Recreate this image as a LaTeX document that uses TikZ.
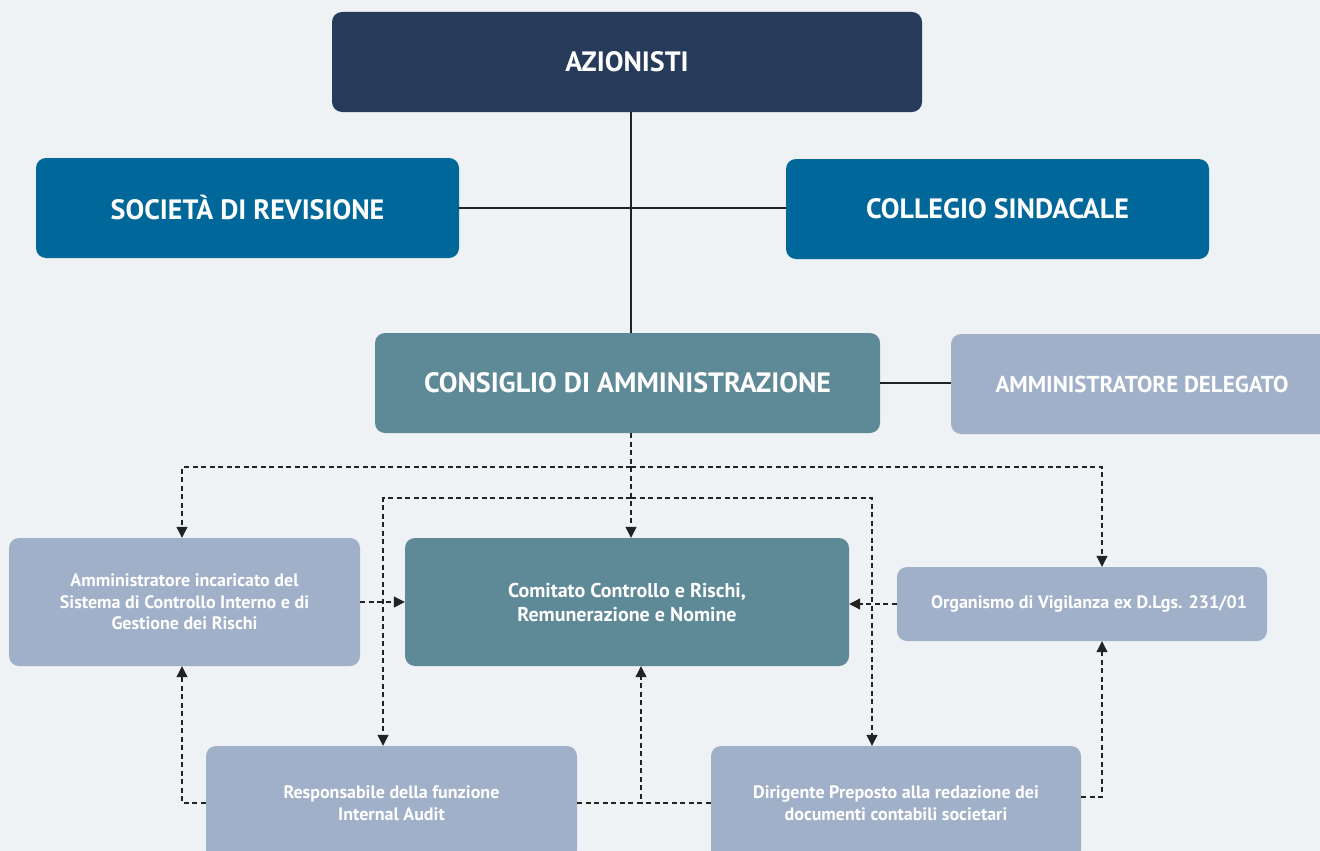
\documentclass[tikz,border=0pt]{standalone}
\usepackage{fontspec}
\setmainfont{PT Sans}
\usetikzlibrary{arrows.meta,calc}
\definecolor{bgc}{HTML}{EEF2F5}
\definecolor{navy}{HTML}{263A5A}
\definecolor{blu}{HTML}{00679A}
\definecolor{teal}{HTML}{5E8996}
\definecolor{lite}{HTML}{A0B0C9}
\definecolor{ink}{HTML}{222222}
\begin{document}
\begin{tikzpicture}[x=1pt,y=-1pt,
  box/.style={rounded corners=10pt,inner sep=0pt,text=white,font=\bfseries,align=center},
  big/.style={box,font=\fontsize{28}{31}\selectfont\bfseries},
  mid/.style={box,font=\fontsize{23}{26}\selectfont\bfseries},
  small/.style={box,font=\fontsize{18}{21.5}\selectfont\bfseries},
  smallc/.style={box,font=\fontsize{20}{24}\selectfont\bfseries},
  sline/.style={draw=ink,line width=1.2pt},
  dline/.style={draw=ink,line width=1.2pt,dash pattern=on 5pt off 3.5pt},
  darrow/.style={dline,-{Triangle[length=11pt,width=11pt]}}]
\fill[bgc] (0,0) rectangle (1320,851);
\clip (0,0) rectangle (1320,851);
\node[big,fill=navy,minimum width=590pt,minimum height=100pt] (az) at (627,62) {AZIONISTI};
\node[big,fill=blu,minimum width=423pt,minimum height=100pt] (sr) at (247.5,208) {SOCIETÀ DI REVISIONE};
\node[big,fill=blu,minimum width=423pt,minimum height=100pt] (cs) at (997.5,209) {COLLEGIO SINDACALE};
\node[big,fill=teal,minimum width=505pt,minimum height=100pt] (cda) at (627.5,383) {CONSIGLIO DI AMMINISTRAZIONE};
\node[mid,fill=lite,minimum width=382pt,minimum height=100pt] (ad) at (1142,384) {AMMINISTRATORE DELEGATO};
\node[small,fill=lite,minimum width=351pt,minimum height=128pt] (aic) at (184.5,602) {Amministratore incaricato del\\Sistema di Controllo Interno e di\\Gestione dei Rischi};
\node[smallc,fill=teal,minimum width=444pt,minimum height=128pt] (com) at (627,602) {Comitato Controllo e Rischi,\\Remunerazione e Nomine};
\node[small,fill=lite,minimum width=370pt,minimum height=74pt] (odv) at (1082,604) {\hspace*{14pt}Organismo di Vigilanza ex D.Lgs. 231/01};
\node[small,fill=lite,minimum width=371pt,minimum height=114pt] (ria) at (391.5,803) {Responsabile della funzione\\Internal Audit};
\node[small,fill=lite,minimum width=370pt,minimum height=114pt] (dp) at (896,803) {Dirigente Preposto alla redazione dei\\documenti contabili societari};
\coordinate (vx) at (631,0);
\coordinate (hy) at (0,208);
\coordinate (h1) at (631,467);
\coordinate (h2) at (631,498);
\coordinate (xa) at (182,0);
\coordinate (xb) at (383,0);
\coordinate (xc) at (872,0);
\coordinate (xd) at (1102,0);
\coordinate (xe) at (641,0);
% solid connectors
\draw[sline] (az.south -| vx) -- (cda.north -| vx);
\draw[sline] (sr.east |- hy) -- (cs.west |- hy);
\draw[sline] (cda.east) -- (cda.east -| ad.west);
% dashed connectors
\draw[darrow] (cda.south -| vx) -- (com.north -| vx);
\draw[darrow] (h1) -| (aic.north -| xa);
\draw[darrow] (h1) -| (odv.north -| xd);
\draw[darrow] (h2) -| (ria.north -| xb);
\draw[darrow] (h2) -| (dp.north -| xc);
\draw[darrow] (aic.east) -- (com.west);
\draw[darrow] (odv.west) -- (odv.west -| com.east);
\draw[darrow] (ria.west) -| (aic.south -| xa);
\draw[darrow] (ria.east) -| (com.south -| xe);
\draw[dline] (dp.west) -- (dp.west -| xe);
\draw[darrow] ($(dp.east)+(0,-6)$) -| (odv.south -| xd);
\end{tikzpicture}
\end{document}
